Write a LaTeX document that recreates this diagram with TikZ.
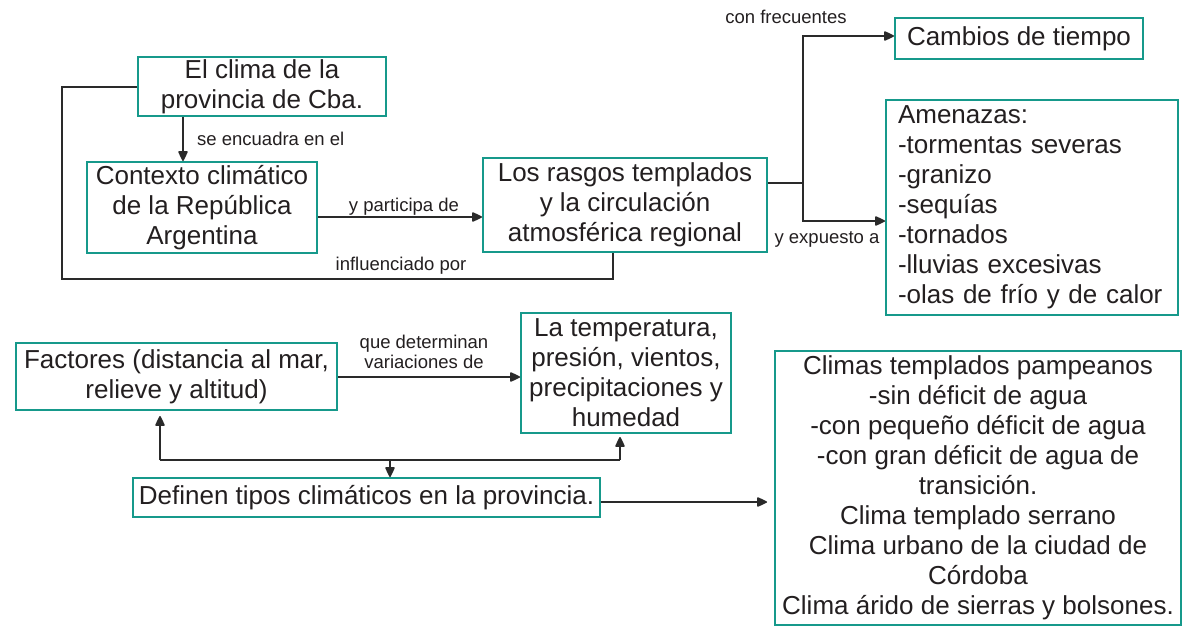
\documentclass[tikz,border=0pt]{standalone}
\usepackage{fontspec}
\setmainfont{Liberation Sans}
\usetikzlibrary{arrows.meta}
\definecolor{boxteal}{HTML}{16998B}
\definecolor{ink}{HTML}{231F20}
\definecolor{wire}{HTML}{2A2A2A}
\tikzset{
  cbox/.style={draw=boxteal, line width=2pt, inner sep=0pt, align=center, text=ink,
    font=\fontsize{26}{30}\selectfont},
  lbl/.style={inner sep=0pt, text=ink, font=\fontsize{18.5}{20}\selectfont, align=center},
  wirel/.style={draw=wire, line width=1.6pt},
  arr/.style={wirel, -{Triangle[length=11pt,width=10pt,round]}}
}
\begin{document}
\begin{tikzpicture}[x=1pt,y=-1pt]
\useasboundingbox[fill=white] (0,0) rectangle (1191,626);
% boxes
\node[cbox, minimum width=248pt, minimum height=59pt] (clima) at (262,86.5) {El clima de la\\provincia de Cba.};
\node[cbox, minimum width=230pt, minimum height=91pt] (contexto) at (202,207.5) {Contexto climático\\de la República\\Argentina};
\node[cbox, minimum width=284pt, minimum height=94pt] (rasgos) at (625,205) {Los rasgos templados\\y la circulación\\atmosférica regional};
\node[cbox, minimum width=248pt, minimum height=41pt] (cambios) at (1019,38.5) {Cambios de tiempo};
\node[cbox, minimum width=292pt, minimum height=215pt, align=left, text width=268pt] (amen) at (1032,207.5) {Amenazas:\\-tormentas severas\\-granizo\\-sequías\\-tornados\\-lluvias excesivas\\-olas de frío y de calor};
\node[cbox, minimum width=321pt, minimum height=67pt] (factores) at (176.5,376.5) {Factores (distancia al mar,\\relieve y altitud)};
\node[cbox, minimum width=210pt, minimum height=120pt] (temp) at (626,373) {La temperatura,\\presión, vientos,\\precipitaciones y\\humedad};
\node[cbox, minimum width=467pt, minimum height=39pt] (definen) at (366.5,497.5) {Definen tipos climáticos en la provincia.};
\node[cbox, minimum width=406pt, minimum height=274pt] (climas) at (978,488) {Climas templados pampeanos\\-sin déficit de agua\\-con pequeño déficit de agua\\-con gran déficit de agua de\\transición.\\Clima templado serrano\\Clima urbano de la ciudad de\\Córdoba\\Clima árido de sierras y bolsones.};
% helper coordinates
\coordinate (cA) at (183,0);
\coordinate (lA) at (62,87);
\coordinate (lB) at (62,279);
\coordinate (lC) at (613,279);
\coordinate (pY) at (0,217);
\coordinate (rY) at (0,183);
\coordinate (bX) at (803,0);
\coordinate (cY) at (0,36);
\coordinate (aY) at (0,221);
\coordinate (fY) at (0,377);
\coordinate (jL) at (160,460);
\coordinate (jM) at (390,460);
\coordinate (jR) at (620,460);
\coordinate (dY) at (0,502);
% connectors
\draw[arr] (clima.south -| cA) -- (contexto.north -| cA);
\draw[wirel] (clima.west |- lA) -- (lA) -- (lB) -- (lC) -- (rasgos.south -| lC);
\draw[arr] (contexto.east |- pY) -- (rasgos.west |- pY);
\draw[wirel] (rasgos.east |- rY) -- (bX |- rY);
\draw[arr] (bX |- rY) -- (bX |- cY) -- (cambios.west |- cY);
\draw[arr] (bX |- rY) -- (bX |- aY) -- (amen.west |- aY);
\draw[arr] (factores.east |- fY) -- (temp.west |- fY);
\draw[wirel] (jL) -- (jR);
\draw[arr] (jL) -- ([yshift=-5pt]factores.south -| jL);
\draw[arr] (jR) -- ([yshift=-3pt]temp.south -| jR);
\draw[arr] (jM) -- (definen.north -| jM);
\draw[arr, shorten >=7pt] (definen.east |- dY) -- (climas.west |- dY);
% labels
\node[lbl, anchor=west] (l1) at (197,139) {se encuadra en el};
\node[lbl] (l2) at (404,207) {y participa de};
\node[lbl] (l3) at (401,266) {influenciado por};
\node[lbl] (l4) at (786,17) {con frecuentes};
\node[lbl] (l5) at (827,239) {y expuesto a};
\node[lbl] (l6) at (424,352) {que determinan\\variaciones de};
\end{tikzpicture}
\end{document}
